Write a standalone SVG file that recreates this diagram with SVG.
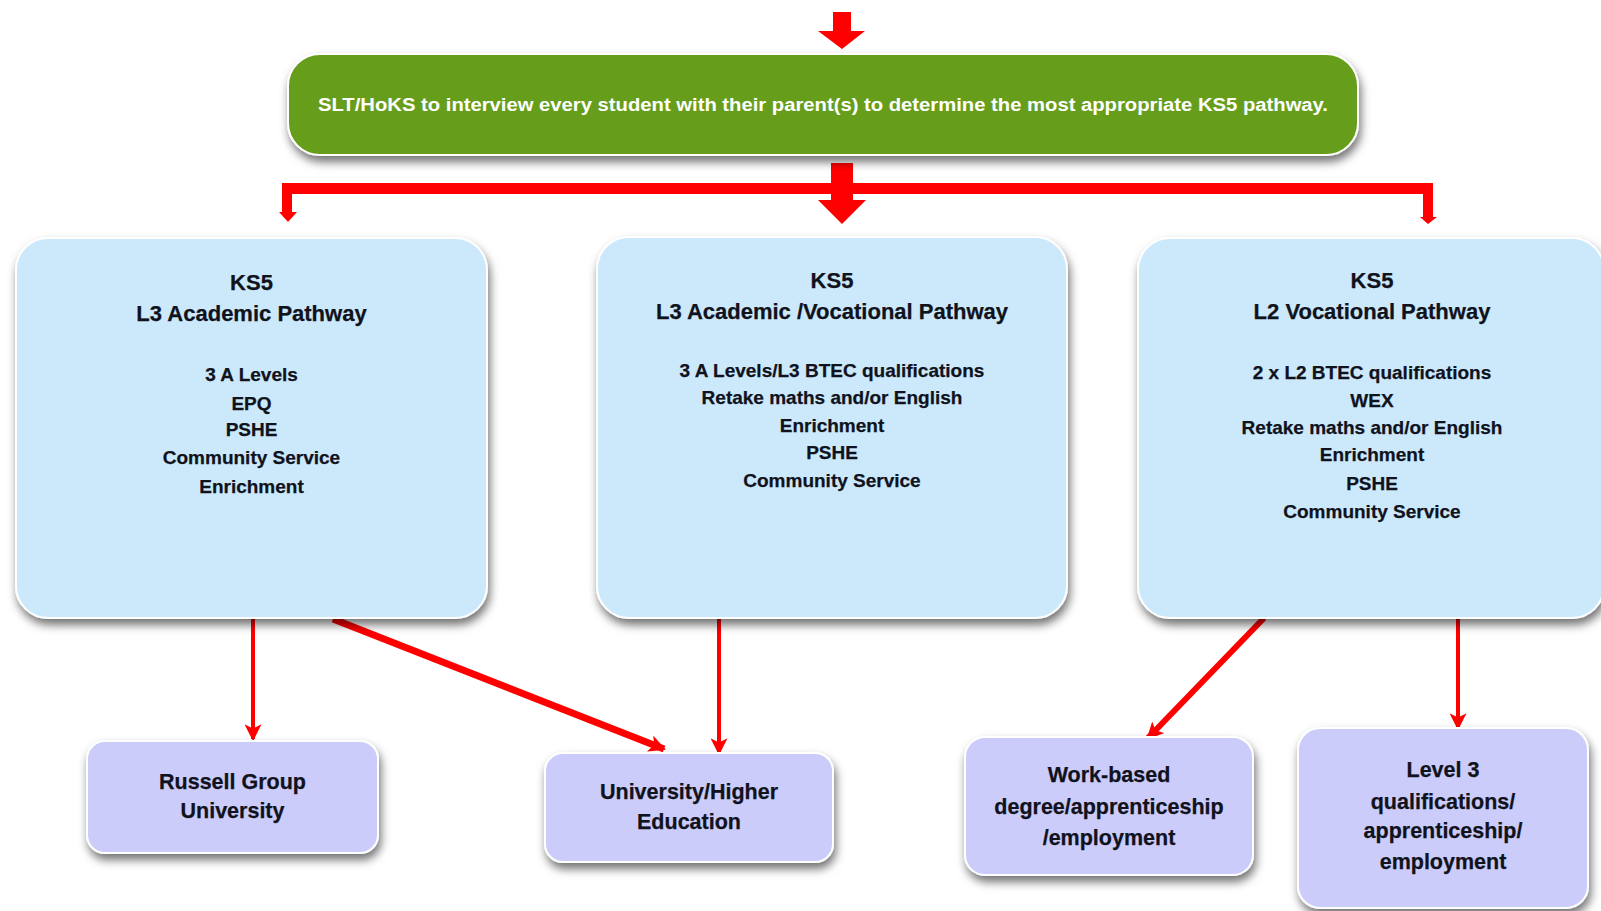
<svg xmlns="http://www.w3.org/2000/svg" width="1601" height="911" viewBox="0 0 1601 911">
  <defs>
    <filter id="shadow" x="-10%" y="-10%" width="120%" height="130%">
      <feDropShadow dx="2" dy="6" stdDeviation="5" flood-color="#000" flood-opacity="0.55"/>
    </filter>
    <marker id="ah" viewBox="0 0 16 16" refX="14" refY="8" markerWidth="17" markerHeight="17" markerUnits="userSpaceOnUse" orient="auto">
      <path d="M0,0 L16,8 L0,16 L4,8 Z" fill="#ff0000"/>
    </marker>
  </defs>
  <style>
    .box { stroke: #ffffff; stroke-width: 2; filter: url(#shadow); }
    .green { fill: #669e1b; }
    .blue { fill: #cce9fb; }
    .lav { fill: #ccccfb; }
    .t { font-family: "Liberation Sans", Arial, sans-serif; font-weight: bold; text-anchor: middle; fill: #10121c; stroke: #10121c; stroke-width: 0.25; }
    .white { fill: #ffffff; stroke: none; }
    .title { font-size: 22px; }
    .item { font-size: 19px; }
    .out { font-size: 21.5px; }
    .conn { stroke: #ff0000; fill: none; stroke-linecap: butt; }
    .block { fill: #ff0000; stroke: none; }
  </style>
  <rect width="1601" height="911" fill="#ffffff"/>

  <g id="connectors">
    <path class="block" d="M833,12 H851 V31 H865 L842,49 L818,31 H833 Z"/>
    <path class="block" d="M831,163 H853 V200 H866 L842,224 L818,200 H831 Z"/>
    <path class="block" d="M282,183 H1433 V217 H1437 L1428,224 L1420,217 H1423 V194 H292 V212 H297 L288,222 L279,212 H282 Z"/>
    <line class="conn" x1="253" y1="619" x2="253" y2="739" stroke-width="4" marker-end="url(#ah)"/>
    <line class="conn" x1="333" y1="619" x2="664" y2="749" stroke-width="7" marker-end="url(#ah)"/>
    <line class="conn" x1="719" y1="619" x2="719" y2="753" stroke-width="4" marker-end="url(#ah)"/>
    <line class="conn" x1="1264" y1="618" x2="1148" y2="738" stroke-width="6" marker-end="url(#ah)"/>
    <line class="conn" x1="1458" y1="618" x2="1458" y2="728" stroke-width="4" marker-end="url(#ah)"/>
  </g>

  <g id="interview">
    <rect class="box green" x="288" y="54" width="1070" height="101" rx="32"/>
    <text class="t white" x="823" y="111" font-size="18" textLength="1010" lengthAdjust="spacingAndGlyphs">SLT/HoKS to interview every student with their parent(s) to determine the most appropriate KS5 pathway.</text>
  </g>

  <g id="academic">
    <rect class="box blue" x="16" y="238" width="471" height="380" rx="32"/>
    <text class="t title" x="251.5" y="290">KS5</text>
    <text class="t title" x="251.5" y="321">L3 Academic Pathway</text>
    <text class="t item" x="251.5" y="381">3 A Levels</text>
    <text class="t item" x="251.5" y="410">EPQ</text>
    <text class="t item" x="251.5" y="436">PSHE</text>
    <text class="t item" x="251.5" y="464">Community Service</text>
    <text class="t item" x="251.5" y="493">Enrichment</text>
  </g>

  <g id="academic-vocational">
    <rect class="box blue" x="597" y="237" width="470" height="381" rx="32"/>
    <text class="t title" x="832" y="288">KS5</text>
    <text class="t title" x="832" y="319">L3 Academic /Vocational Pathway</text>
    <text class="t item" x="832" y="377">3 A Levels/L3 BTEC qualifications</text>
    <text class="t item" x="832" y="404">Retake maths and/or English</text>
    <text class="t item" x="832" y="432">Enrichment</text>
    <text class="t item" x="832" y="459">PSHE</text>
    <text class="t item" x="832" y="487">Community Service</text>
  </g>

  <g id="vocational">
    <rect class="box blue" x="1138" y="238" width="466" height="380" rx="32"/>
    <text class="t title" x="1372" y="288">KS5</text>
    <text class="t title" x="1372" y="319">L2 Vocational Pathway</text>
    <text class="t item" x="1372" y="379">2 x L2 BTEC qualifications</text>
    <text class="t item" x="1372" y="407">WEX</text>
    <text class="t item" x="1372" y="434">Retake maths and/or English</text>
    <text class="t item" x="1372" y="461">Enrichment</text>
    <text class="t item" x="1372" y="490">PSHE</text>
    <text class="t item" x="1372" y="518">Community Service</text>
  </g>

  <g id="russell">
    <rect class="box lav" x="87" y="741" width="291" height="112" rx="18"/>
    <text class="t out" x="232.5" y="789">Russell Group</text>
    <text class="t out" x="232.5" y="818">University</text>
  </g>

  <g id="university">
    <rect class="box lav" x="545" y="753" width="288" height="109" rx="18"/>
    <text class="t out" x="689" y="799">University/Higher</text>
    <text class="t out" x="689" y="829">Education</text>
  </g>

  <g id="workbased">
    <rect class="box lav" x="965" y="737" width="288" height="138" rx="20"/>
    <text class="t out" x="1109" y="782">Work-based</text>
    <text class="t out" x="1109" y="814">degree/apprenticeship</text>
    <text class="t out" x="1109" y="845">/employment</text>
  </g>

  <g id="level3">
    <rect class="box lav" x="1298" y="728" width="290" height="180" rx="22"/>
    <text class="t out" x="1443" y="777">Level 3</text>
    <text class="t out" x="1443" y="809">qualifications/</text>
    <text class="t out" x="1443" y="838">apprenticeship/</text>
    <text class="t out" x="1443" y="869">employment</text>
  </g>
</svg>
